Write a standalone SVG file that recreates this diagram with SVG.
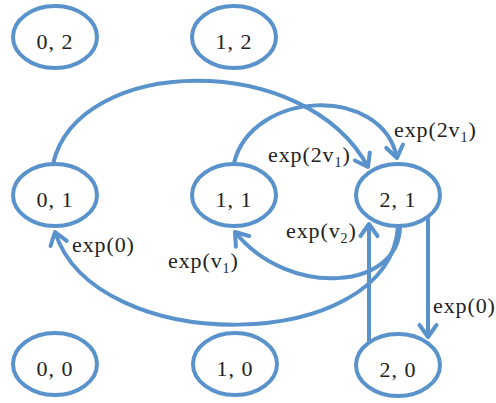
<svg xmlns="http://www.w3.org/2000/svg" width="496" height="403" viewBox="0 0 496 403">
  <defs>
    <marker id="arr" markerUnits="userSpaceOnUse" markerWidth="40" markerHeight="40" viewBox="-20 -20 40 40" refX="0" refY="0" orient="auto" overflow="visible">
      <path d="M-12,-8.5 L0,0 L-12,8.5" fill="none" stroke="#5a93cc" stroke-width="4" stroke-linecap="round" stroke-linejoin="round"/>
    </marker>
  </defs>
  <style>
    .node ellipse { fill: #ffffff; stroke: #5a93cc; stroke-width: 4; }
    .node text { font-family: "Liberation Serif", "Times New Roman", serif; font-size: 22px; fill: #222222; text-anchor: middle; letter-spacing: 1px; }
    .edge { fill: none; stroke: #5a93cc; stroke-width: 4; marker-end: url(#arr); }
    .lbl { font-family: "Liberation Serif", "Times New Roman", serif; font-size: 22px; fill: #222222; letter-spacing: 0.9px; }
    .sub { font-size: 14px; }
  </style>
  <rect width="496" height="403" fill="#ffffff"/>

  <g id="connectors">
    <path id="e_01_21" class="edge" d="M53,164 C78,55 305,50 368,167"/>
    <path id="e_11_21" class="edge" d="M234,163 C252,90 382,84 397,158"/>
    <path id="e_21_11" class="edge" d="M400,226 C400,290 289,299 235,232"/>
    <path id="e_21_01" class="edge" d="M398,226 C390,355 95,358 55,232"/>
    <path id="e_20_21" class="edge" d="M369,342 L369,224"/>
    <path id="e_21_20" class="edge" d="M428,218 L428,337"/>
  </g>

  <g id="labels">
    <text class="lbl" x="394" y="137">exp(2v<tspan class="sub" dy="5">1</tspan><tspan dy="-5">)</tspan></text>
    <text class="lbl" x="268" y="162">exp(2v<tspan class="sub" dy="5">1</tspan><tspan dy="-5">)</tspan></text>
    <text class="lbl" x="286" y="238">exp(v<tspan class="sub" dy="5">2</tspan><tspan dy="-5">)</tspan></text>
    <text class="lbl" x="72" y="252">exp(0)</text>
    <text class="lbl" x="168" y="268">exp(v<tspan class="sub" dy="5">1</tspan><tspan dy="-5">)</tspan></text>
    <text class="lbl" x="433" y="313">exp(0)</text>
  </g>

  <g id="n02" class="node"><ellipse cx="55" cy="37" rx="42" ry="31"/><text x="55" y="49">0, 2</text></g>
  <g id="n12" class="node"><ellipse cx="234" cy="37" rx="42" ry="31"/><text x="234" y="49">1, 2</text></g>
  <g id="n01" class="node"><ellipse cx="55" cy="195" rx="42" ry="31"/><text x="55" y="207">0, 1</text></g>
  <g id="n11" class="node"><ellipse cx="234" cy="195" rx="42" ry="31"/><text x="234" y="207">1, 1</text></g>
  <g id="n21" class="node"><ellipse cx="398" cy="195" rx="42" ry="31"/><text x="398" y="207">2, 1</text></g>
  <g id="n00" class="node"><ellipse cx="55" cy="364" rx="42" ry="31"/><text x="55" y="376">0, 0</text></g>
  <g id="n10" class="node"><ellipse cx="235" cy="364" rx="42" ry="31"/><text x="235" y="376">1, 0</text></g>
  <g id="n20" class="node"><ellipse cx="398" cy="365" rx="42" ry="31"/><text x="398" y="377">2, 0</text></g>
</svg>
